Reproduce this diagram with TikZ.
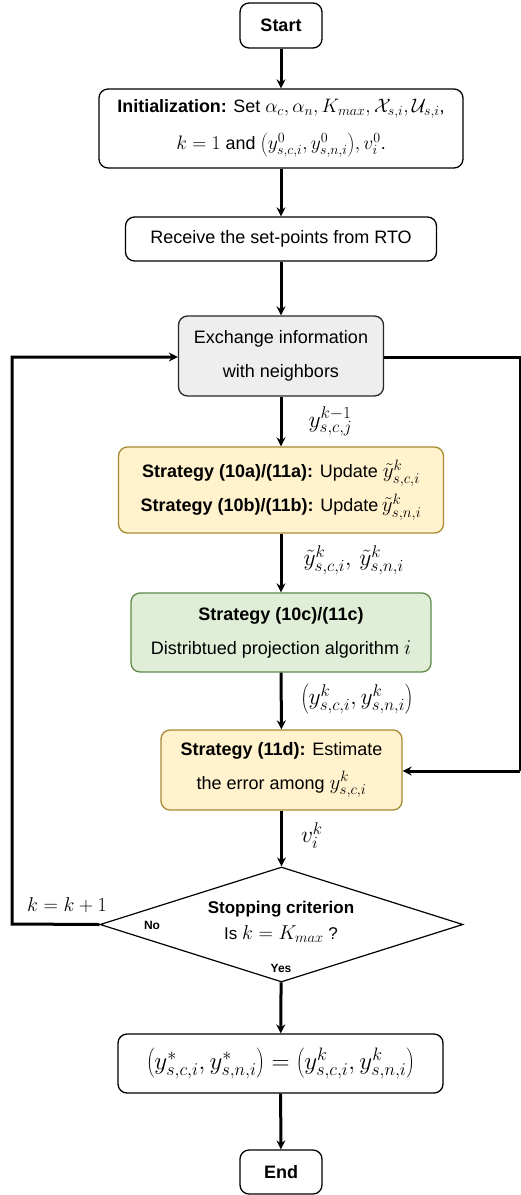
\RequirePackage{fix-cm}
\documentclass[tikz,border=0pt]{standalone}
\usepackage{fontspec}
\setmainfont{Liberation Sans}
\DeclareMathSizes{18}{21}{15}{11}
\DeclareMathSizes{17.9}{19.5}{14}{10}
\DeclareMathSizes{17}{20}{14.5}{11}
\DeclareMathSizes{19}{23.5}{17}{12}
\DeclareMathSizes{20}{25}{18}{13}
\usetikzlibrary{arrows.meta,shapes.geometric}
\definecolor{ylfill}{HTML}{FFF2CC}
\definecolor{yldraw}{HTML}{A88B32}
\definecolor{grfill}{HTML}{E0EED8}
\definecolor{grdraw}{HTML}{5E8A48}
\definecolor{gyfill}{HTML}{EEEEEE}
\tikzset{
  box/.style={draw=black, line width=1.3pt, rounded corners=9pt, align=center, font=\fontsize{18}{34}\selectfont, inner sep=0pt},
  ybox/.style={box, fill=ylfill, draw=yldraw},
  gbox/.style={box, fill=grfill, draw=grdraw},
  gray/.style={box, fill=gyfill, draw=black!85},
  flow/.style={line width=3pt, -{Stealth[length=9pt,width=9pt,inset=3pt]}},
  lab/.style={font=\fontsize{19}{20}\selectfont, anchor=west, inner sep=0pt},
}
\begin{document}
\begin{tikzpicture}[x=1pt,y=-1pt]
\useasboundingbox (0,0) rectangle (520,1195);
\node[box, minimum width=82pt, minimum height=45pt] (start) at (281,25.5) {\textbf{Start}};
\node[box, font=\fontsize{17.9}{37}\selectfont, minimum width=364pt, minimum height=79pt] (init) at (281,128.5)
  {\textbf{Initialization:} Set $\alpha_c,\alpha_n,K_{max},\mathcal{X}_{s,i},\mathcal{U}_{s,i}$,\\
   $k=1$ and $\left(y^0_{s,c,i},y^0_{s,n,i}\right)\!,v^0_i$.};
\node[box, minimum width=311pt, minimum height=44pt] (recv) at (281,239) {Receive the set-points from RTO};
\node[gray, minimum width=205pt, minimum height=80pt] (exch) at (281,356) {Exchange information\\with neighbors};
\node[ybox, minimum width=325pt, minimum height=86pt] (s1) at (281,490)
  {\textbf{Strategy (10a)/(11a):} Update $\tilde y^k_{s,c,i}$\\
   \textbf{Strategy (10b)/(11b):} Update$\,\tilde y^k_{s,n,i}$};
\node[gbox, minimum width=300pt, minimum height=79pt] (s2) at (281,632.5)
  {\textbf{Strategy (10c)/(11c)}\\Distribtued projection algorithm $i$};
\node[ybox, minimum width=241pt, minimum height=80pt] (s3) at (281.5,770)
  {\textbf{Strategy (11d):} Estimate\\the error among $y^k_{s,c,i}$};
\node[draw, line width=1.2pt, diamond, aspect=3.16, inner sep=0pt, minimum width=363pt, minimum height=115pt] (dec) at (281.5,924.5) {};
\node[align=center, font=\fontsize{17}{26}\selectfont] (dectxt) at (281,922) {\textbf{Stopping criterion}\\Is $k=K_{max}$ ?};
\node[font=\bfseries\fontsize{12}{14}\selectfont] (no) at (152,925) {No};
\node[font=\bfseries\fontsize{12}{14}\selectfont] (yes) at (281,968) {Yes};
\node[box, font=\fontsize{20}{30}\selectfont, minimum width=325pt, minimum height=59pt] (fin) at (280.5,1063.5)
  {$\left(y^*_{s,c,i},y^*_{s,n,i}\right)=\left(y^k_{s,c,i},y^k_{s,n,i}\right)$};
\node[box, minimum width=82pt, minimum height=44pt] (end) at (281,1172) {\textbf{End}};
\coordinate (lc) at (12,924);
\coordinate (lt) at (12,357);
\coordinate (rt) at (520,357);
\coordinate (rb) at (520,771);
\draw[flow] (start) -- (init);
\draw[flow] (init) -- (recv);
\draw[flow] (recv) -- (exch);
\draw[flow] (exch) -- node[lab, right=26pt] (l1) {$y^{k-1}_{s,c,j}$} (s1);
\draw[flow] (s1) -- node[lab, right=21pt, yshift=3pt] (l2) {$\tilde y^k_{s,c,i},\,\tilde y^k_{s,n,i}$} (s2);
\draw[flow] (s2) -- node[lab, right=18pt, yshift=2pt] (l3) {$\left(y^k_{s,c,i},y^k_{s,n,i}\right)$} (s3);
\draw[flow] (s3) -- node[lab, right=18pt, yshift=3pt] (l4) {$v^k_i$} (dec);
\draw[flow] (dec) -- (fin);
\draw[flow] (fin) -- (end);
\draw[flow, rounded corners=0pt] (dec.west) -- (lc) -- (lt) -- (exch.west |- lt);
\draw[line width=3pt] (exch.east |- rt) -- (rt) -- (rb);
\draw[flow] (rb) -- (s3.east |- rb);
\node[lab, font=\fontsize{17}{18}\selectfont] (kk) at (27,905) {$k=k+1$};
\end{tikzpicture}
\end{document}
